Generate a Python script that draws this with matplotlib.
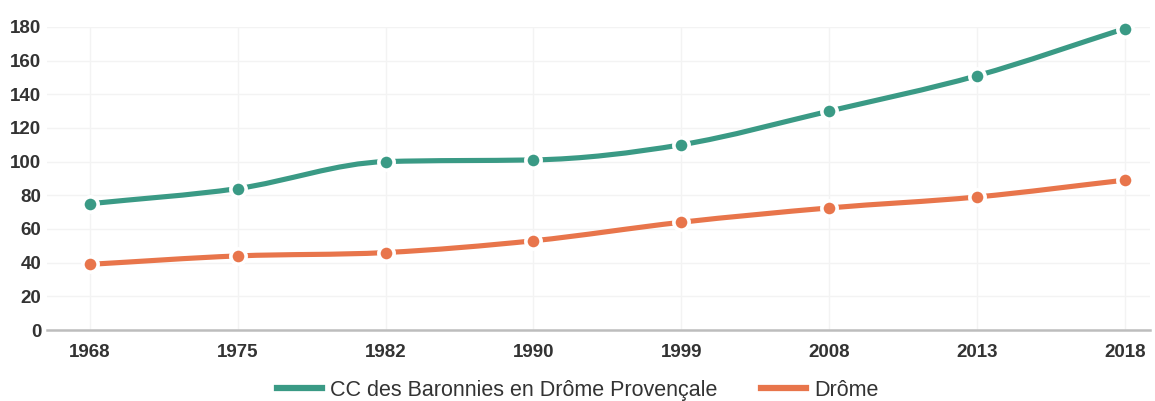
import numpy as np
import matplotlib
matplotlib.use("Agg")
import matplotlib.pyplot as plt
from matplotlib.path import Path
from matplotlib.patches import PathPatch

plt.rcParams['font.family'] = ['Liberation Sans', 'DejaVu Sans']

years = ["1968", "1975", "1982", "1990", "1999", "2008", "2013", "2018"]
baronnies = [75, 84, 100, 101, 110, 130, 151, 179]
drome = [39, 44, 46, 53, 64, 72.5, 79, 89]

teal = "#3a9a85"
orange = "#e8754b"


def smooth_path(xs, ys):
    # monotone cubic (like chart.js "monotone"), turned into bezier segments
    xs = np.asarray(xs, float)
    ys = np.asarray(ys, float)
    n = len(xs)
    d = np.diff(ys) / np.diff(xs)
    m = np.zeros(n)
    m[0], m[-1] = d[0], d[-1]
    for i in range(1, n - 1):
        m[i] = 0 if d[i - 1] * d[i] <= 0 else (d[i - 1] + d[i]) / 2
    for i in range(n - 1):
        if d[i] == 0:
            m[i] = m[i + 1] = 0
            continue
        a, b = m[i] / d[i], m[i + 1] / d[i]
        s = a * a + b * b
        if s > 9:
            t = 3 / np.sqrt(s)
            m[i], m[i + 1] = t * a * d[i], t * b * d[i]
    verts = [(xs[0], ys[0])]
    codes = [Path.MOVETO]
    for i in range(n - 1):
        h = (xs[i + 1] - xs[i]) / 3
        verts += [(xs[i] + h, ys[i] + m[i] * h),
                  (xs[i + 1] - h, ys[i + 1] - m[i + 1] * h),
                  (xs[i + 1], ys[i + 1])]
        codes += [Path.CURVE4] * 3
    return Path(verts, codes)


fig = plt.figure(figsize=(11.55, 4.01), dpi=100)
ax = fig.add_axes([0.0407, 0.177, 0.955, 0.756])

x = np.arange(len(years))
for vals, col, lab in [(baronnies, teal, "CC des Baronnies en Drôme Provençale"),
                       (drome, orange, "Drôme")]:
    ax.add_patch(PathPatch(smooth_path(x, vals), facecolor="none",
                           edgecolor=col, lw=3.7, capstyle="round", zorder=3))
    ax.plot(x, vals, linestyle="none", marker="o", markersize=11,
            markerfacecolor=col, markeredgecolor="white", markeredgewidth=2.6,
            zorder=4, clip_on=False)
    ax.plot([], [], color=col, lw=4.5, label=lab)

ax.set_xlim(-0.29, 7.17)
ax.set_ylim(0, 180)
ax.set_yticks(range(0, 181, 20))
ax.set_xticks(x)
ax.set_xticklabels(years)
ax.grid(True, color="#f3f3f3", lw=1)
ax.set_axisbelow(True)
for s in ["top", "right", "left"]:
    ax.spines[s].set_visible(False)
ax.spines["bottom"].set_color("#bdbdbd")
ax.spines["bottom"].set_linewidth(1.8)
ax.tick_params(length=0, labelsize=13.5, labelcolor="#333333")
ax.tick_params(axis="x", pad=10)
ax.tick_params(axis="y", pad=4)
for lbl in ax.get_xticklabels() + ax.get_yticklabels():
    lbl.set_fontweight("bold")

fig.legend(loc="center", bbox_to_anchor=(0.5, 0.027), ncol=2, frameon=False,
           fontsize=15.5, handlelength=2.1, handletextpad=0.38, columnspacing=2.0,
           labelcolor="#333333")

fig.savefig("out.png", dpi=100, facecolor="white")
